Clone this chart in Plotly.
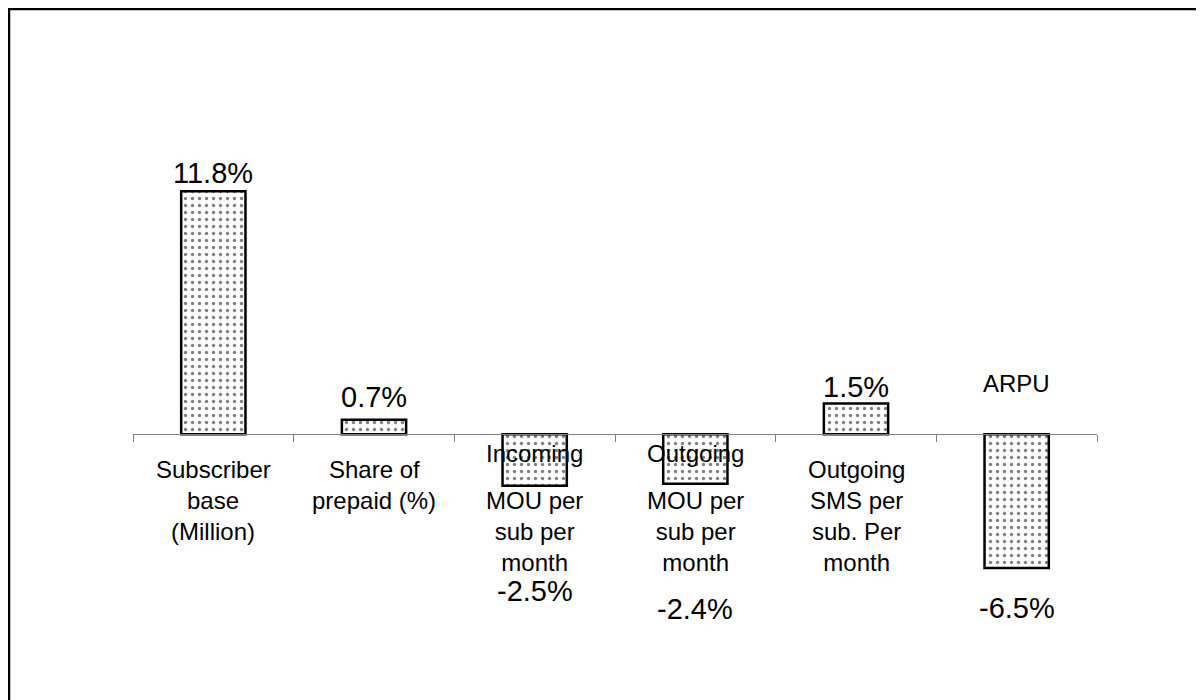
import plotly.graph_objects as go

# ---- data ----
categories = [
    "Subscriber base (Million)",
    "Share of prepaid (%)",
    "Incoming MOU per sub per month",
    "Outgoing MOU per sub per month",
    "Outgoing SMS per sub. Per month",
    "ARPU",
]
values = [11.8, 0.7, -2.5, -2.4, 1.5, -6.5]
value_labels = ["11.8%", "0.7%", "-2.5%", "-2.4%", "1.5%", "-6.5%"]
# category label text blocks (first line / remaining lines)
cat_head = ["Subscriber", "Share of", "Incoming", "Outgoing", "Outgoing", "ARPU"]
cat_tail = ["base<br>(Million)", "prepaid (%)", "MOU per<br>sub per<br>month",
            "MOU per<br>sub per<br>month", "SMS per<br>sub. Per<br>month", ""]

# ---- styling / layout ----
W, H = 1204, 700
ML, MR, MT, MB = 125, 115, 138, 109
y_min, y_max = -8.0, 14.0
FONT = "Liberation Sans, Arial, sans-serif"

fig = go.Figure()
fig.add_trace(go.Bar(
    x=categories, y=values, width=0.4,
    marker=dict(
        color="white",
        line=dict(color="black", width=2.5),
        pattern=dict(shape=".", fgcolor="black", bgcolor="white",
                     size=7, solidity=0.18, fillmode="overlay"),
    ),
    hoverinfo="skip", showlegend=False,
))

# data labels: pixel offsets from bar end
label_shift = [18, 23, -105, -125, 16, -40]
for c, v, t, s in zip(categories, values, value_labels, label_shift):
    fig.add_annotation(x=c, y=v, xref="x", yref="y", text=t, showarrow=False,
                       yanchor="middle", yshift=s,
                       font=dict(family=FONT, size=29, color="black"))

# category labels: pixel offsets from axis line (y=0)
head_shift = [-35, -35, -19, -19, -35, 51]
tail_shift = [-51, -51, -51, -51, -51, 0]
for c, h, hs, t, ts in zip(categories, cat_head, head_shift, cat_tail, tail_shift):
    fig.add_annotation(x=c, y=0, xref="x", yref="y", text=h, showarrow=False,
                       yanchor="middle", yshift=hs,
                       font=dict(family=FONT, size=24, color="black"))
    if t:
        fig.add_annotation(x=c, y=0, xref="x", yref="y", text=t, showarrow=False,
                           yanchor="top", yshift=ts,
                           font=dict(family=FONT, size=24, color="black"))

zero_pos = (0 - y_min) / (y_max - y_min)

# outer border of chart area
pw = W - ML - MR
ph = H - MT - MB
fig.add_shape(type="rect", xref="paper", yref="paper",
              x0=(1 - ML) / pw, x1=(W + 20 - ML) / pw,
              y0=1 - (H + 20 - MT) / ph, y1=1 - (1 - MT) / ph,
              line=dict(color="black", width=2.5), fillcolor="rgba(0,0,0,0)")

fig.update_layout(
    width=W, height=H,
    margin=dict(l=ML, r=MR, t=MT, b=MB, pad=0),
    paper_bgcolor="white", plot_bgcolor="white",
    xaxis=dict(type="category", range=[-0.5, 5.5], anchor="free", position=zero_pos,
               showline=True, linecolor="#7f7f7f", linewidth=1.2,
               ticks="outside", tickson="boundaries", ticklen=7, tickcolor="#7f7f7f",
               tickwidth=1.2, showticklabels=False, showgrid=False, zeroline=False),
    yaxis=dict(range=[y_min, y_max], visible=False, showgrid=False, zeroline=False),
    font=dict(family=FONT),
)

fig.write_html("out.html")
